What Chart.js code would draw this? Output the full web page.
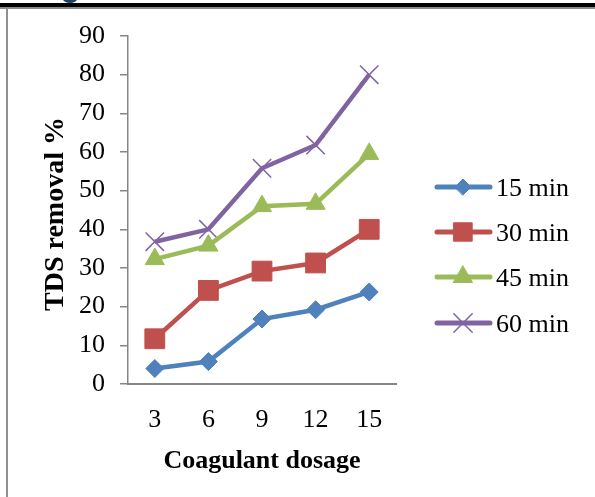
<!DOCTYPE html>
<html>
<head>
<meta charset="utf-8">
<script src="https://cdn.jsdelivr.net/npm/chart.js@4.4.0/dist/chart.umd.min.js"></script>
<style>
  html, body { margin: 0; padding: 0; background: #fff; }
  canvas { display: block; }
</style>
</head>
<body>
<canvas id="tdsChart" width="595" height="497"></canvas>
<script>
// Daten
const dosage = ['3', '6', '9', '12', '15'];
const seriesNames = ['15 min', '30 min', '45 min', '60 min'];
const min15 = [4, 5.8, 16.8, 19.2, 23.8];
const min30 = [11.7, 24.2, 29.2, 31.3, 40];
const min45 = [32.3, 35.8, 46, 46.6, 59.5];
const min60 = [36.8, 40, 55.8, 61.8, 80];
const yTicks = [0, 10, 20, 30, 40, 50, 60, 70, 80, 90];

const serif = "'Liberation Serif', 'Times New Roman', serif";
const axisGray = '#868686';

function series(label, data, color, style, radius, borderW) {
    return {
        label: label,
        data: data,
        borderColor: color,
        backgroundColor: color,
        borderWidth: 4.5,
        pointStyle: style,
        pointRadius: radius,
        pointHoverRadius: radius,
        pointBackgroundColor: color,
        pointBorderColor: color,
        pointBorderWidth: borderW,
        tension: 0,
        fill: false
    };
}

// Rahmen oben / links und abgeschnittener Buchstabe
const framePlugin = {
    id: 'frame',
    beforeDraw(chart) {
        const ctx = chart.ctx;
        ctx.save();
        ctx.fillStyle = '#ffffff';
        ctx.fillRect(0, 0, chart.width, chart.height);
        ctx.fillStyle = '#000000';
        ctx.fillRect(0, 3, chart.width, 4);
        ctx.fillStyle = '#8a8a8a';
        ctx.fillRect(0, 7, chart.width, 2);
        ctx.fillStyle = '#909090';
        ctx.fillRect(6, 9, 2, chart.height - 9);
        ctx.fillStyle = '#1f3f6e';
        ctx.beginPath();
        ctx.ellipse(70, -1, 7, 4, 0, 0, Math.PI * 2);
        ctx.fill();
        ctx.restore();
    }
};

// Achsentitel und Legende rechts
const labelPlugin = {
    id: 'labels',
    afterDraw(chart) {
        const ctx = chart.ctx;
        const area = chart.chartArea;
        ctx.save();
        ctx.fillStyle = '#000000';
        ctx.font = 'bold 26px ' + serif;
        ctx.textAlign = 'center';
        ctx.textBaseline = 'alphabetic';
        ctx.fillText('Coagulant dosage', (area.left + area.right) / 2, 468);

        ctx.save();
        ctx.font = 'bold 28px ' + serif;
        ctx.translate(63, (area.top + area.bottom) / 2 + 4);
        ctx.rotate(-Math.PI / 2);
        ctx.fillText('TDS removal %', 0, 0);
        ctx.restore();

        const rows = [187, 232, 277, 323];
        const legendRadius = [8, 13, 11, 13];
        chart.data.datasets.forEach((ds, i) => {
            const y = rows[i];
            ctx.strokeStyle = ds.borderColor;
            ctx.lineWidth = 5;
            ctx.lineCap = 'round';
            ctx.beginPath();
            ctx.moveTo(437, y);
            ctx.lineTo(490, y);
            ctx.stroke();
            ctx.fillStyle = ds.backgroundColor;
            ctx.lineWidth = ds.pointBorderWidth;
            Chart.helpers.drawPoint(ctx, {
                pointStyle: ds.pointStyle,
                radius: legendRadius[i],
                rotation: 0,
                borderWidth: ds.pointBorderWidth
            }, 463, y);
            ctx.fillStyle = '#000000';
            ctx.font = '26px ' + serif;
            ctx.textAlign = 'left';
            ctx.fillText(ds.label, 496, y + 9);
        });
        ctx.restore();
    }
};

new Chart(document.getElementById('tdsChart'), {
    type: 'line',
    data: {
        labels: dosage,
        datasets: [
            series(seriesNames[0], min15, '#4f81bd', 'rectRot', 9, 1),
            series(seriesNames[1], min30, '#c0504d', 'rect', 14, 1),
            series(seriesNames[2], min45, '#9bbb59', 'triangle', 11, 1),
            series(seriesNames[3], min60, '#8064a2', 'crossRot', 13, 1.5)
        ]
    },
    options: {
        responsive: false,
        devicePixelRatio: 1,
        animation: false,
        layout: { padding: { left: 40, right: 199, top: 36, bottom: 29 } },
        plugins: {
            legend: { display: false },
            tooltip: { enabled: false },
            title: { display: false }
        },
        scales: {
            x: {
                offset: true,
                afterFit: s => { s.height = 84; },
                grid: { display: false, drawTicks: false },
                border: { display: true, color: axisGray, width: 2 },
                ticks: {
                    color: '#000',
                    padding: 21,
                    font: { family: serif, size: 26 }
                }
            },
            y: {
                min: 0,
                max: 90,
                afterFit: s => { s.width = 88; },
                afterBuildTicks: s => { s.ticks = yTicks.map(v => ({ value: v })); },
                grid: {
                    drawOnChartArea: false,
                    drawTicks: true,
                    tickLength: 8,
                    color: axisGray,
                    lineWidth: 1.5
                },
                border: { display: true, color: axisGray, width: 1.5 },
                ticks: {
                    color: '#000',
                    padding: 15,
                    font: { family: serif, size: 26 }
                }
            }
        }
    },
    plugins: [framePlugin, labelPlugin]
});
</script>
</body>
</html>
